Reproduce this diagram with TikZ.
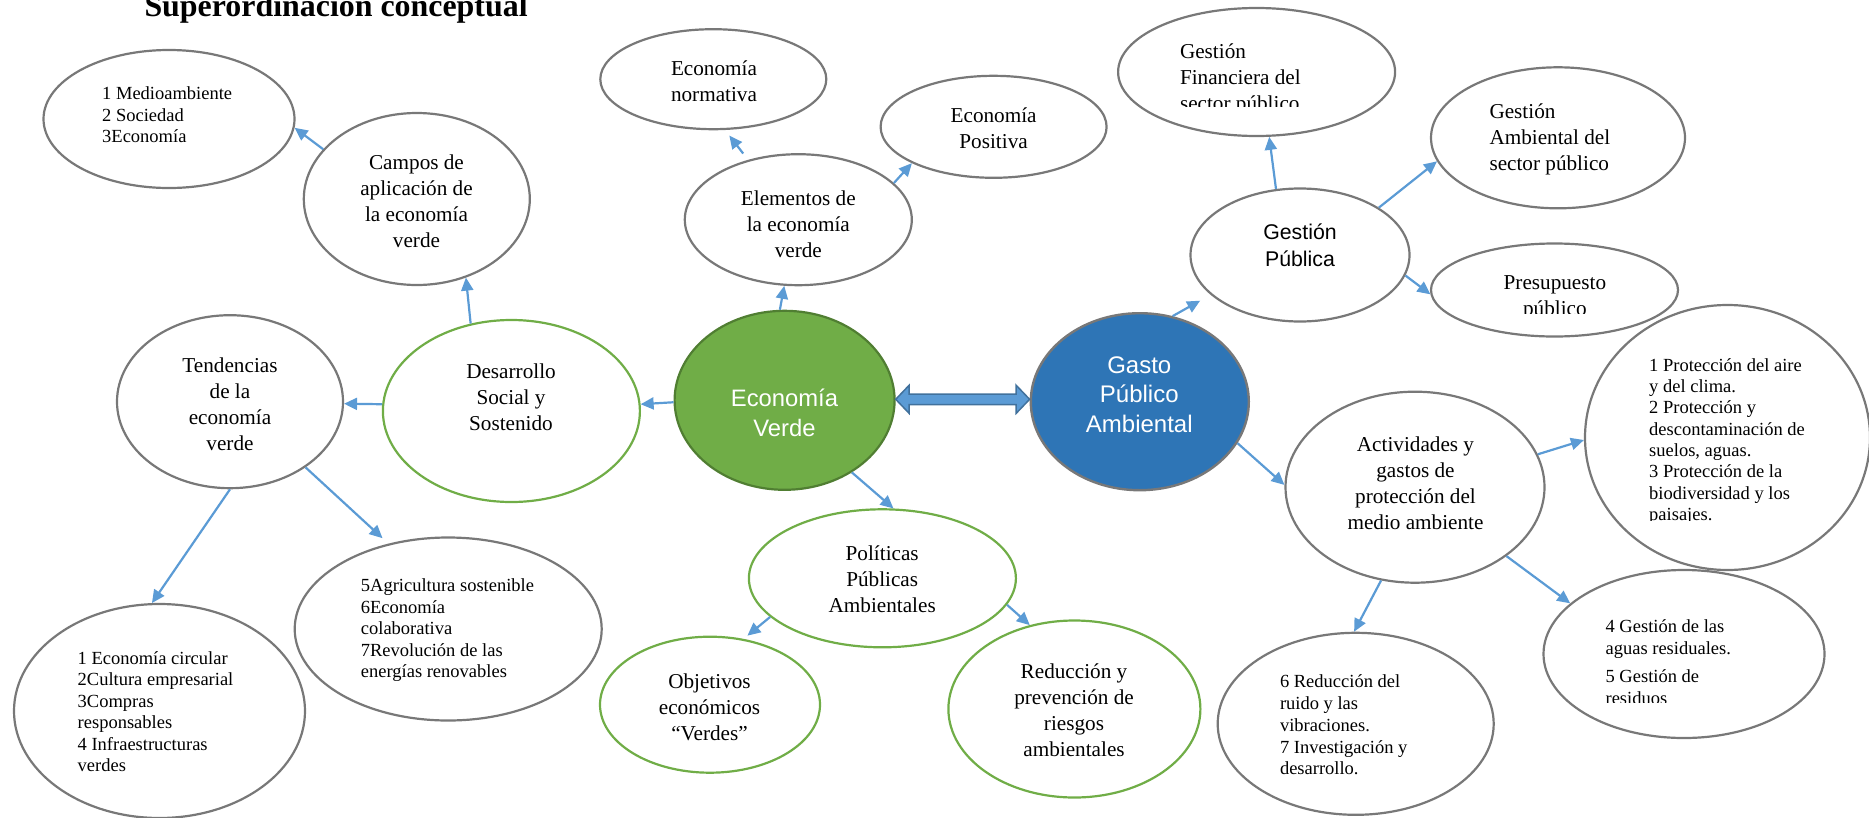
\documentclass[tikz,border=0pt]{standalone}
\usepackage{fontspec}
\setmainfont{Liberation Serif}
\setsansfont{Liberation Sans}
\usetikzlibrary{shapes.geometric,arrows.meta,calc}
\definecolor{grayc}{HTML}{787878}
\definecolor{greenc}{HTML}{70AD47}
\definecolor{dgreen}{HTML}{507E32}
\definecolor{bluec}{HTML}{2E75B6}
\definecolor{arrc}{HTML}{5B9BD5}
\definecolor{arrb}{HTML}{41719C}
\tikzset{
  ov/.style={ellipse, draw=grayc, line width=2.2pt, inner sep=0pt},
  gov/.style={ellipse, draw=greenc, line width=2.2pt, inner sep=0pt},
  txt/.style={font=\fontsize{21.2}{26}\selectfont, align=center, inner sep=0pt},
  lst/.style={font=\fontsize{18.5}{21.4}\selectfont, align=left, inner sep=0pt, anchor=west},
  arr/.style={draw=arrc, line width=2.2pt, -{Triangle[length=13pt,width=12pt]}},
  dbl/.style={fill=arrc, draw=arrb, line width=1.5pt, line join=miter}
}
\begin{document}
\begin{tikzpicture}[x=1pt,y=-1pt]
\useasboundingbox (0,0) rectangle (1869,817);

\node[anchor=base west, inner sep=0pt, font=\bfseries\fontsize{31.9}{36}\selectfont] (title) at (144.3,16.5) {Superordinación conceptual};

% ellipses
\node[ov, minimum width=251pt, minimum height=138pt] (medio) at (169,119) {};
\node[ov, minimum width=226pt, minimum height=172pt] (campos) at (416.8,199) {};
\node[ov, minimum width=226pt, minimum height=100pt] (norm) at (713.3,79.2) {};
\node[ov, minimum width=226pt, minimum height=102pt] (posi) at (993.6,126.8) {};
\node[ov, minimum width=227pt, minimum height=131pt] (elem) at (798.3,219.7) {};
\node[ov, minimum width=277pt, minimum height=128pt] (gf) at (1256.6,72) {};
\node[ov, minimum width=254pt, minimum height=141pt] (ga) at (1558,137.8) {};
\node[ov, minimum width=219pt, minimum height=133pt] (gp) at (1300,255) {};
\node[ov, minimum width=247pt, minimum height=93pt] (pres) at (1554.5,290) {};
\node[ov, minimum width=226pt, minimum height=173pt] (tend) at (230,401.7) {};
\node[gov, minimum width=257pt, minimum height=182pt] (des) at (511.4,411) {};
\node[ellipse, draw=dgreen, fill=greenc, line width=2.2pt, inner sep=0pt, minimum width=220pt, minimum height=179pt] (ev) at (784.6,400.3) {};
\node[ellipse, draw=grayc, fill=bluec, line width=2.4pt, inner sep=0pt, minimum width=218pt, minimum height=177pt] (gpa) at (1139.8,401.7) {};
\node[ov, minimum width=259pt, minimum height=191pt] (act) at (1415,487.2) {};
\node[ov, minimum width=285pt, minimum height=265pt] (listr) at (1727.5,437.5) {};
\node[ov, minimum width=291pt, minimum height=214pt] (l1) at (159.5,711) {};
\node[ov, minimum width=307pt, minimum height=183pt] (l2) at (448.2,629) {};
\node[gov, minimum width=267pt, minimum height=138pt] (pol) at (882.4,578.3) {};
\node[gov, minimum width=220pt, minimum height=136pt] (obj) at (710,704.7) {};
\node[gov, minimum width=252pt, minimum height=177pt] (red) at (1074.4,709) {};
\node[ov, minimum width=276pt, minimum height=182pt] (l67) at (1355.7,723.8) {};
\node[ov, minimum width=281pt, minimum height=168pt] (l45) at (1684,654) {};

% texts
\node[lst] (tmedio) at (102,114.7) {1 Medioambiente\\2 Sociedad\\3Economía};
\node[txt] (tcampos) at (416.5,201.2) {Campos de\\aplicación de\\la economía\\verde};
\node[txt] (tnorm) at (714,81.7) {Economía\\normativa};
\node[txt] (tposi) at (993.6,128.3) {Economía\\Positiva};
\node[txt] (telem) at (798.3,224.2) {Elementos de\\la economía\\verde};
\begin{scope}
\clip (1150,0) rectangle (1400,106);
\node[txt, align=left, anchor=west] (tgf) at (1179.8,79.8) {Gestión\\Financiera del\\sector público};
\end{scope}
\node[txt, align=left, anchor=west] (tga) at (1489.3,139.2) {Gestión\\Ambiental del\\sector público};
\node[txt, font=\sffamily\fontsize{21.3}{26.6}\selectfont] (tgp) at (1300,245) {Gestión\\Pública};
\begin{scope}
\clip (1440,250) rectangle (1670,313.3);
\node[txt] (tpres) at (1554.9,297.5) {Presupuesto\\público};
\end{scope}
\node[txt] (ttend) at (230,404.2) {Tendencias\\de la\\economía\\verde};
\node[txt] (tdes) at (511,397) {Desarrollo\\Social y\\Sostenido};
\node[txt, text=white, font=\sffamily\fontsize{23.8}{30}\selectfont] (tev) at (784.5,413.3) {Economía\\Verde};
\node[txt, text=white, font=\sffamily\fontsize{24}{29.5}\selectfont] (tgpa) at (1139.3,394.5) {Gasto\\Público\\Ambiental};
\node[txt] (tact) at (1415.5,483.3) {Actividades y\\gastos de\\protección del\\medio ambiente};
\begin{scope}
\clip (1600,340) rectangle (1869,520.7);
\node[lst, font=\fontsize{18.5}{21.3}\selectfont] (tlistr) at (1649,441.3) {1 Protección del aire\\y del clima.\\2 Protección y\\descontaminación de\\suelos, aguas.\\3 Protección de la\\biodiversidad y los\\paisajes.};
\end{scope}
\node[lst] (tl1) at (77.5,711.7) {1 Economía circular\\2Cultura empresarial\\3Compras\\responsables\\4 Infraestructuras\\verdes};
\node[lst] (tl2) at (360.7,630.3) {5Agricultura sostenible\\6Economía\\colaborativa\\7Revolución de las\\energías renovables};
\node[txt] (tpol) at (882.2,579.7) {Políticas\\Públicas\\Ambientales};
\node[txt] (tobj) at (709.5,707.5) {Objetivos\\económicos\\“Verdes”};
\node[txt] (tred) at (1074,710) {Reducción y\\prevención de\\riesgos\\ambientales};
\node[lst, font=\fontsize{18.5}{21.7}\selectfont] (tl67) at (1279.8,725) {6 Reducción del\\ruido y las\\vibraciones.\\7 Investigación y\\desarrollo.};
\begin{scope}
\clip (1590,600) rectangle (1820,702.7);
\node[lst, font=\fontsize{18.5}{22}\selectfont] (tl45) at (1605.4,662.2) {4 Gestión de las\\aguas residuales.\\[6.5pt]5 Gestión de\\residuos};
\end{scope}

% connectors
\draw[arr] (campos.152.6) -- (medio.-4.6);
\draw[arr] (des.115.3) -- (campos.-58.9);
\draw[arr] (ev.181) -- (des.3.9);
\draw[arr] (des.177.3) -- (tend.-1.6);
\draw[arr] (tend.-90.6) -- (l1.94.4);
\draw[arr, shorten >=8pt] (tend.-41) -- (l2.125);
\draw[arr] (ev.93.9) -- (elem.-102);
\draw[arr, shorten <=8pt, shorten >=7pt] (elem.130.5) -- (norm.-77);
\draw[arr] (elem.21.8) -- (posi.-156.7);
\draw[arr] (ev.-47.2) -- (pol.81.8);
\draw[arr, shorten >=5pt] (pol.199.6) -- (obj.63);
\draw[arr] (pol.-12.2) -- (red.118.8);
\draw[arr, shorten >=12pt] (gpa.69.5) -- (gp.-156);
\draw[arr] (gp.110) -- (gf.-79.8);
\draw[arr] (gp.31) -- (ga.-169);
\draw[arr] (gp.-11.5) -- (pres.-178.5);
\draw[arr] (gpa.-23.3) -- (act.179);
\draw[arr] (act.15.5) -- (listr.181);
\draw[arr] (act.-37) -- (l45.156);
\draw[arr] (act.-110.5) -- (l67.91.7);

% double arrow
\coordinate (L) at ($(ev.east)+(0,-1)$);
\coordinate (R) at (gpa.west |- L);
\draw[dbl] (L) -- ($(L)+(13.4,-14)$) -- ($(L)+(13.4,-5.2)$) -- ($(R)+(-13.4,-5.2)$) -- ($(R)+(-13.4,-14)$) -- (R)
  -- ($(R)+(-13.4,14)$) -- ($(R)+(-13.4,5.2)$) -- ($(L)+(13.4,5.2)$) -- ($(L)+(13.4,14)$) -- cycle;
\end{tikzpicture}
\end{document}
